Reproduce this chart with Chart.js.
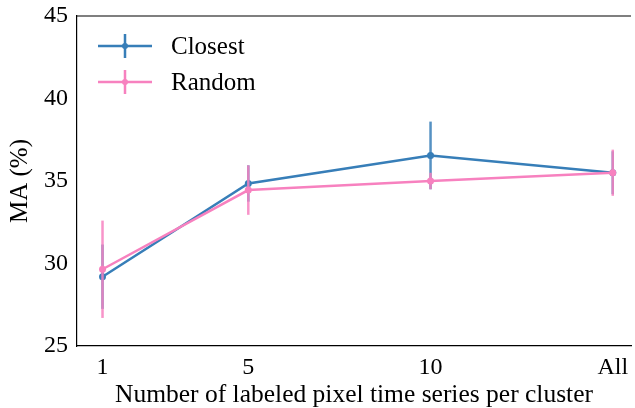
<!DOCTYPE html>
<html lang="en">
<head>
<meta charset="UTF-8">
<title>MA vs labeled pixels</title>
<script src="https://cdn.jsdelivr.net/npm/chart.js@4/dist/chart.umd.min.js"></script>
<style>
  html, body { margin: 0; padding: 0; background: #fff; overflow: hidden; }
  #wrap { width: 635px; height: 408px; }
</style>
<script>
// x positions (All is placed at 15) and tick labels
var xValues = [1, 5, 10, 15];
var xLabels = {1: '1', 5: '5', 10: '10', 15: 'All'};

var closestMean = [29.2, 34.85, 36.55, 35.5];
var closestErr  = [1.95, 1.1, 2.05, 1.3];
var randomMean  = [29.65, 34.45, 35.0, 35.5];
var randomErr   = [2.95, 1.5, 0.5, 1.4];

var yTicks = [25, 30, 35, 40, 45];

var blue = '#377eb8';
var pink = '#f781bf';
var serif = "'Liberation Serif', 'DejaVu Serif', serif";
</script>
</head>
<body>
<div id="wrap"><canvas id="chart" width="635" height="408"></canvas></div>
<script>

function toPoints(means) {
  return xValues.map(function(x, i) { return {x: x, y: means[i]}; });
}

// vertical error bars, drawn under each dataset's line
var errorBars = {
  id: 'errorBars',
  beforeDatasetDraw: function(chart, args) {
    var ds = chart.data.datasets[args.index];
    if (!ds.err) return;
    var ctx = chart.ctx;
    var xs = chart.scales.x, ys = chart.scales.y;
    ctx.save();
    ctx.strokeStyle = ds.borderColor;
    ctx.globalAlpha = 0.85;
    ctx.lineWidth = 2.5;
    ds.data.forEach(function(p, i) {
      var px = xs.getPixelForValue(p.x);
      ctx.beginPath();
      ctx.moveTo(px, ys.getPixelForValue(p.y - ds.err[i]));
      ctx.lineTo(px, ys.getPixelForValue(p.y + ds.err[i]));
      ctx.stroke();
    });
    ctx.restore();
  }
};

// top spine + legend inside the axes, like matplotlib
var frameAndLegend = {
  id: 'frameAndLegend',
  afterDraw: function(chart) {
    var ctx = chart.ctx, a = chart.chartArea;
    ctx.save();
    ctx.strokeStyle = '#000';
    ctx.lineWidth = 1.2;
    ctx.beginPath();
    ctx.moveTo(a.left, a.top);
    ctx.lineTo(a.right, a.top);
    ctx.stroke();

    ctx.font = '25px ' + serif;
    ctx.textBaseline = 'middle';
    ctx.fillStyle = '#000';
    chart.data.datasets.forEach(function(ds, i) {
      var y = 46 + i * 36;
      var x0 = 98, x1 = 152, xm = (x0 + x1) / 2;
      ctx.strokeStyle = ds.borderColor;
      ctx.lineWidth = 2.5;
      ctx.beginPath();
      ctx.moveTo(x0, y); ctx.lineTo(x1, y);
      ctx.moveTo(xm, y - 12); ctx.lineTo(xm, y + 12);
      ctx.stroke();
      ctx.fillStyle = ds.borderColor;
      ctx.beginPath();
      ctx.arc(xm, y, 3, 0, Math.PI * 2);
      ctx.fill();
      ctx.fillStyle = '#000';
      ctx.fillText(ds.label, 171, y + 1);
    });
    ctx.restore();
  }
};

window.onload = function() {
  var ctx = document.getElementById('chart').getContext('2d');
  window.myChart = new Chart(ctx, {
    type: 'line',
    data: {
      datasets: [
        {
          label: 'Closest',
          data: toPoints(closestMean),
          err: closestErr,
          borderColor: blue,
          backgroundColor: blue,
          borderWidth: 2.5,
          pointRadius: 3.5,
          pointBorderWidth: 0,
          tension: 0,
          fill: false,
          order: 2,
        },
        {
          label: 'Random',
          data: toPoints(randomMean),
          err: randomErr,
          borderColor: pink,
          backgroundColor: pink,
          borderWidth: 2.5,
          pointRadius: 3.5,
          pointBorderWidth: 0,
          tension: 0,
          fill: false,
          order: 1,
        },
      ],
    },
    options: {
      responsive: false,
      animation: false,
      events: [],
      layout: { padding: { top: 14, right: 0, left: 0, bottom: 0 } },
      scales: {
        x: {
          type: 'linear',
          min: 0.3,
          max: 15.5,
          afterBuildTicks: function(axis) {
            axis.ticks = xValues.map(function(v) { return {value: v}; });
          },
          afterFit: function(axis) { axis.height = 62; },
          ticks: {
            autoSkip: false,
            maxRotation: 0,
            color: '#000',
            padding: 2,
            font: { family: serif, size: 24 },
            callback: function(v) { return xLabels[v]; },
          },
          grid: { display: false, drawTicks: true, tickLength: 5, tickColor: '#000' },
          border: { color: '#000', width: 1.2 },
          title: {
            display: true,
            text: 'Number of labeled pixel time series per cluster',
            color: '#000',
            font: { family: serif, size: 25.5, lineHeight: 1 },
            padding: { top: 0, bottom: 0 },
          },
        },
        y: {
          min: 25,
          max: 45,
          afterBuildTicks: function(axis) {
            axis.ticks = yTicks.map(function(v) { return {value: v}; });
          },
          afterFit: function(axis) { axis.width = 77; },
          ticks: {
            color: '#000',
            padding: 4,
            font: { family: serif, size: 24, lineHeight: 1 },
          },
          grid: { display: false, drawTicks: true, tickLength: 5, tickColor: '#000' },
          border: { color: '#000', width: 1.2 },
          title: {
            display: true,
            text: 'MA (%)',
            color: '#000',
            font: { family: serif, size: 25 },
            padding: { top: 5, bottom: 0 },
          },
        },
      },
      plugins: {
        legend: { display: false },
        tooltip: { enabled: false },
      },
    },
    plugins: [errorBars, frameAndLegend],
  });
};
</script>
</body>
</html>
